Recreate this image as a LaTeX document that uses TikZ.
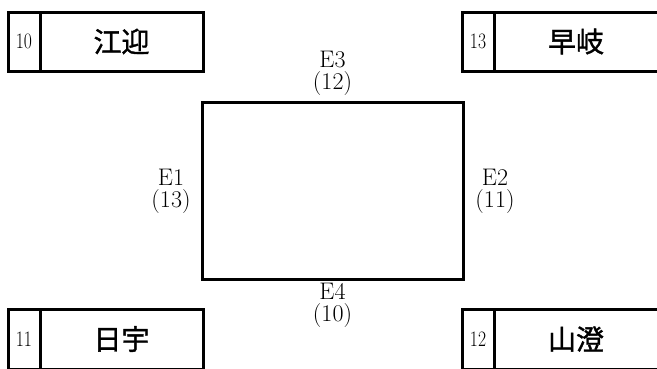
\documentclass[tikz,border=0pt]{standalone}
\usepackage{fontspec}
\newfontfamily\cjk[FakeBold=1.3]{Noto Sans CJK JP}
\begin{document}
\begin{tikzpicture}[x=1pt,y=-1pt,
  frame/.style={draw, line width=3pt, inner sep=0pt},
  numbox/.style={frame, minimum width=32pt, font=\fontsize{22}{22}\selectfont},
  placebox/.style={frame, font=\cjk\fontsize{28}{30}\selectfont},
  edgelab/.style={inner sep=0pt, align=center, font=\fontsize{24}{22}\selectfont}]
\useasboundingbox (0,0) rectangle (657,368);
\clip (0,0) rectangle (657,368);
% top left
\node[numbox, minimum height=59pt] (n10) at (24,41.5) {\scalebox{0.8}[1]{10}};
\node[placebox, minimum width=163pt, minimum height=59pt] (p10) at (121.5,41.5) {江迎};
% top right
\node[numbox, minimum height=59pt] (n13) at (478,41.5) {\scalebox{0.8}[1]{13}};
\node[placebox, minimum width=164pt, minimum height=59pt] (p13) at (576,41.5) {早岐};
% bottom left
\node[numbox, minimum height=60pt] (n11) at (24,339) {\scalebox{0.8}[1]{11}};
\node[placebox, minimum width=163pt, minimum height=60pt] (p11) at (121.5,339) {日宇};
% bottom right
\node[numbox, minimum height=60pt] (n12) at (478,339) {\scalebox{0.8}[1]{12}};
\node[placebox, minimum width=164pt, minimum height=60pt] (p12) at (576,339) {山澄};
% central field
\node[frame, minimum width=261pt, minimum height=177pt] (field) at (332.5,190.5) {};
% edge labels
\node[edgelab] (e3) at (332.5,73.8) {E3\\(12)};
\node[edgelab] (e1) at (171,191.8) {E1\\(13)};
\node[edgelab] (e2) at (495,191.8) {E2\\(11)};
\node[edgelab] (e4) at (332.5,305.8) {E4\\(10)};
\end{tikzpicture}
\end{document}
